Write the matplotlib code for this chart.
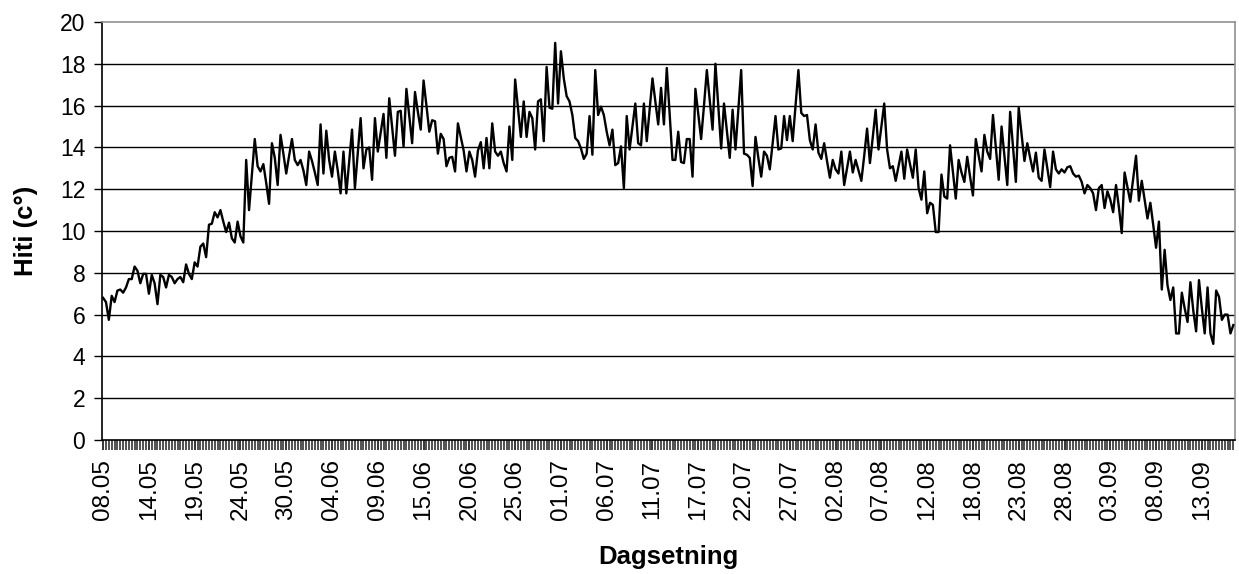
import matplotlib
matplotlib.use("Agg")
import matplotlib.pyplot as plt
import numpy as np

plt.rcParams['font.family'] = ['Liberation Sans', 'DejaVu Sans']

# hitamælingar, þrisvar á dag (lesið af myndinni)
hiti = [
    6.8, 6.6, 5.75, 6.9, 6.6, 7.15, 7.2, 7.05, 7.3, 7.7, 7.7, 8.3, 8.1, 7.5, 7.95, 7.95, 7.0,
    7.9, 7.5, 6.5, 7.9, 7.8, 7.3, 7.9, 7.8, 7.5, 7.7, 7.8, 7.55, 8.4, 7.95, 7.7, 8.5, 8.3,
    9.25, 9.4, 8.75, 10.3, 10.35, 10.9, 10.65, 11.0, 10.45, 9.95, 10.4, 9.65, 9.45, 10.45,
    9.75, 9.45,
    13.4, 11.0, 12.7, 14.4, 13.1, 12.85, 13.2, 12.3, 11.3, 14.2, 13.5, 12.2, 14.6, 13.7,
    12.75, 13.6, 14.4, 13.4, 13.15, 13.4, 12.9, 12.2, 13.8, 13.35, 12.8, 12.2, 15.1, 12.75,
    14.8, 13.4, 12.6, 13.8, 12.9, 11.8, 13.8, 11.8, 13.3, 14.85, 12.05, 13.7, 15.4, 13.0,
    13.9, 14.0, 12.45, 15.4, 13.8, 14.7, 15.6,
    13.5, 16.35, 15.0, 13.6, 15.7, 15.75, 14.05, 16.8, 15.5, 14.2, 16.65, 15.7, 14.85, 17.2,
    16.0, 14.75, 15.3, 15.25, 13.7, 14.65, 14.4, 13.1, 13.5, 13.55, 12.85, 15.15, 14.5,
    13.85, 12.85, 13.8, 13.4, 12.6, 13.85, 14.25, 13.0, 14.45, 13.0, 15.15, 13.8, 13.6,
    13.8, 13.25, 12.85, 15.0, 13.4, 17.25, 15.9, 14.5,
    16.2, 14.5, 15.7, 15.4, 13.9, 16.2, 16.3, 14.3, 17.85, 15.9, 15.85, 19.0, 16.1, 18.6,
    17.3, 16.45, 16.2, 15.55, 14.45, 14.3, 13.95, 13.45, 13.7, 15.5, 13.65, 17.7, 15.55,
    15.95, 15.55, 14.75, 14.1, 14.85, 13.15, 13.25, 14.05, 12.05, 15.5, 13.9, 15.0, 16.1,
    14.2, 14.1, 16.1, 14.3, 15.8, 17.3, 16.2, 15.1, 16.85,
    15.1, 17.8, 15.6, 13.4, 13.4, 14.75, 13.3, 13.25, 14.4, 14.4, 12.6, 16.8, 15.6, 14.4,
    16.0, 17.7, 16.3, 14.85, 18.0, 16.0, 13.95, 16.1, 14.8, 13.5, 15.8, 13.9, 15.8, 17.7,
    13.7, 13.65, 13.5, 12.15, 14.5, 13.5, 12.6, 13.8, 13.6, 12.95, 14.2, 15.5, 13.9, 13.95,
    15.5, 14.35, 15.5, 14.3, 16.0, 17.7,
    15.65, 15.5, 15.55, 14.35, 13.9, 15.1, 13.75, 13.45, 14.2, 13.35, 12.55, 13.4, 12.95,
    12.75, 13.8, 12.2, 13.0, 13.8, 12.8, 13.4, 12.9, 12.4, 13.6, 14.9, 13.25, 14.5, 15.8,
    13.9, 15.0, 16.1, 13.9, 13.0, 13.1, 12.4, 13.1, 13.8, 12.5, 13.9, 13.2, 12.55, 13.9,
    12.05, 11.5, 12.85, 10.85, 11.35, 11.25, 9.95, 9.95,
    12.7, 11.65, 11.55, 14.1, 12.8, 11.55, 13.4, 12.8, 12.35, 13.55, 12.6, 11.7, 14.4, 13.6,
    12.85, 14.6, 13.8, 13.45, 15.55, 14.0, 12.45, 15.0, 13.6, 12.2, 15.7, 14.0, 12.35, 15.9,
    14.6, 13.35, 14.2, 13.5, 12.85, 13.75, 12.55, 12.4, 13.9, 13.0, 12.1, 13.8, 12.95, 12.75,
    12.95, 12.8, 13.05, 13.1, 12.75, 12.6, 12.65,
    12.35, 11.8, 12.2, 12.05, 11.8, 11.0, 12.05, 12.2, 11.1, 11.9, 11.5, 10.9, 12.2, 11.15,
    9.9, 12.8, 12.1, 11.4, 12.5, 13.6, 11.45, 12.4, 11.5, 10.6, 11.35, 10.3, 9.2, 10.45, 7.2,
    9.1, 7.4, 6.7, 7.3, 5.1, 5.1, 7.05, 6.3, 5.65, 7.55, 6.2, 5.2, 7.65, 6.3, 5.1, 7.3, 5.1,
    4.6, 7.15, 6.85, 5.75, 6.0, 6.0, 5.1, 5.5,
]

dagsetningar = ['08.05', '14.05', '19.05', '24.05', '30.05', '04.06', '09.06', '15.06',
                '20.06', '25.06', '01.07', '06.07', '11.07', '17.07', '22.07', '27.07',
                '02.08', '07.08', '12.08', '18.08', '23.08', '28.08', '03.09', '08.09',
                '13.09']
merki_bil = 16  # ein dagsetning á hverja 16 mælipunkta

n = len(hiti)
x = np.arange(n)

fig = plt.figure(figsize=(12.39, 5.74), dpi=100)
ax = fig.add_axes([0.0823, 0.2334, 0.9145, 0.7283])

# lárétt hjálparlínur
for yy in range(2, 20, 2):
    ax.axhline(yy, color='black', lw=1.0, zorder=1)

ax.plot(x, hiti, color='black', lw=1.7, zorder=3)

ax.set_ylim(0, 20)
ax.set_xlim(-0.4, n - 0.4)
ax.set_yticks(range(0, 21, 2))
ax.set_xticks(np.arange(len(dagsetningar)) * merki_bil)
ax.set_xticklabels(dagsetningar, rotation=90)
ax.set_xticks(x, minor=True)

ax.tick_params(axis='y', direction='out', length=6, width=1, labelsize=16.5, pad=6)
ax.tick_params(axis='x', which='both', direction='out', length=7, width=1.1,
               colors='black', labelsize=17.5, pad=7)
ax.tick_params(axis='x', which='minor', color='#222222')

for s in ['top', 'right']:
    ax.spines[s].set_color('#909090')
    ax.spines[s].set_linewidth(1.2)
for s in ['left', 'bottom']:
    ax.spines[s].set_color('black')
    ax.spines[s].set_linewidth(1.2)

ax.set_ylabel('Hiti (c°)', fontsize=18.5, fontweight='bold', labelpad=16)
ax.set_xlabel('Dagsetning', fontsize=18.5, fontweight='bold', labelpad=18)

fig.savefig('out.png', dpi=100)
